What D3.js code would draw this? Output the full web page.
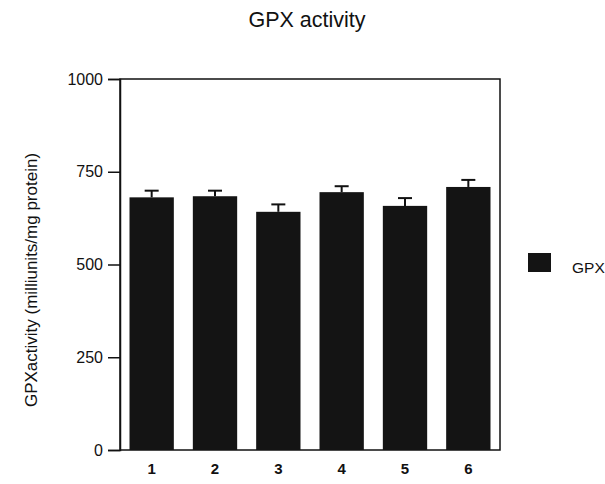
<!DOCTYPE html>
<html><head><meta charset="utf-8">
<script src="https://cdn.jsdelivr.net/npm/d3@7"></script>
<style>body{margin:0;background:#fff}svg{display:block}text{font-family:"Liberation Sans",Arial,sans-serif;fill:#111}</style>
</head><body>
<script>
const categories = ["1","2","3","4","5","6"];
const values = [681, 684, 642, 695, 658, 709];
const errors = [18, 15, 20, 16, 21, 19];
const yTicks = [0, 250, 500, 750, 1000];
const seriesName = "GPX";

const W = 605, H = 484;
const m = {left:120, right:105, top:79, bottom:34};
const svg = d3.select("body").append("svg").attr("width",W).attr("height",H);
const x = d3.scaleBand().domain(categories).range([m.left, W-m.right]).paddingInner(0.3).paddingOuter(0.15);
const y = d3.scaleLinear().domain([0,1000]).range([H-m.bottom, m.top]);
const data = categories.map((c,i)=>({c, v:values[i], e:errors[i]}));

svg.append("text").attr("x",307).attr("y",27).attr("text-anchor","middle").attr("font-size",21.5).text("GPX activity");

// frame
svg.append("rect").attr("x",m.left).attr("y",m.top).attr("width",W-m.right-m.left).attr("height",H-m.bottom-m.top)
  .attr("fill","none").attr("stroke","#111").attr("stroke-width",1.5);

// bars
svg.selectAll("rect.bar").data(data).join("rect").attr("class","bar")
  .attr("x",d=>x(d.c)).attr("width",x.bandwidth()).attr("y",d=>y(d.v)).attr("height",d=>y(0)-y(d.v)).attr("fill","#141414");

// error bars
const eg = svg.append("g").attr("stroke","#111").attr("stroke-width",2);
eg.selectAll("line.v").data(data).join("line").attr("x1",d=>x(d.c)+x.bandwidth()/2).attr("x2",d=>x(d.c)+x.bandwidth()/2)
  .attr("y1",d=>y(d.v)).attr("y2",d=>y(d.v+d.e));
eg.selectAll("line.h").data(data).join("line").attr("x1",d=>x(d.c)+x.bandwidth()/2-7).attr("x2",d=>x(d.c)+x.bandwidth()/2+7)
  .attr("y1",d=>y(d.v+d.e)).attr("y2",d=>y(d.v+d.e));

// y axis
const ya = svg.append("g").attr("transform",`translate(${m.left},0)`)
  .call(d3.axisLeft(y).tickValues(yTicks).tickSize(12).tickPadding(5).tickFormat(d3.format("d")));
ya.select(".domain").attr("stroke","#111").attr("stroke-width",1.5);
ya.selectAll(".tick line").attr("stroke","#111").attr("stroke-width",1.5);
ya.selectAll(".tick text").attr("font-size",16).attr("font-family","Liberation Sans, Arial, sans-serif").attr("fill","#111");

// x axis
const xa = svg.append("g").attr("transform",`translate(0,${H-m.bottom})`)
  .call(d3.axisBottom(x).tickSize(0).tickPadding(13));
xa.select(".domain").remove();
xa.selectAll(".tick text").attr("font-size",15).attr("font-weight","bold").attr("font-family","Liberation Sans, Arial, sans-serif").attr("fill","#111");

// y label
svg.append("text").attr("transform","translate(37,280) rotate(-90)").attr("text-anchor","middle").attr("font-size",17)
  .text("GPXactivity (milliunits/mg protein)");

// legend
svg.append("rect").attr("x",528).attr("y",253).attr("width",23).attr("height",19).attr("fill","#141414");
svg.append("text").attr("x",572).attr("y",273).attr("font-size",15.5).text(seriesName);
</script>
</body></html>
